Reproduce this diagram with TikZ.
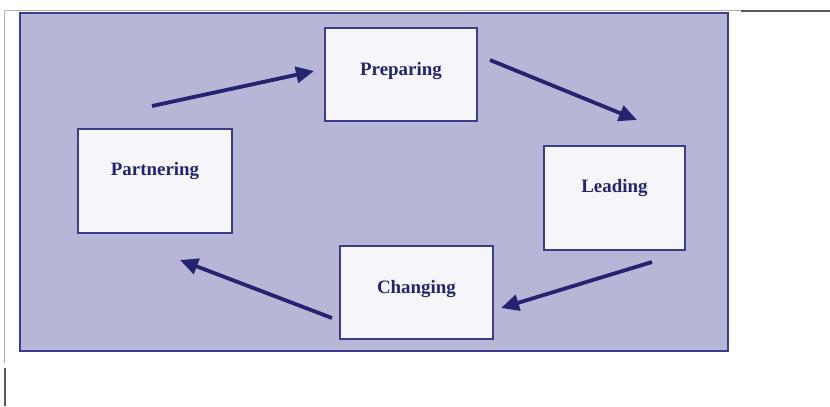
\documentclass[tikz,border=0pt]{standalone}
\usepackage{fontspec}
\setmainfont{Liberation Serif}
\usetikzlibrary{arrows.meta}
\definecolor{panelfill}{RGB}{182,182,214}
\definecolor{paneledge}{RGB}{60,60,140}
\definecolor{boxfill}{RGB}{246,246,250}
\definecolor{inkblue}{RGB}{36,36,112}
\definecolor{rulegray}{RGB}{175,175,175}
\definecolor{ruledark}{RGB}{90,90,90}
\tikzset{
  stagebox/.style={draw=paneledge, line width=1.2bp, fill=boxfill, inner sep=0pt},
  stagetext/.style={inner sep=0pt, font=\fontsize{19}{22}\selectfont\bfseries, text=inkblue},
  flow/.style={draw=inkblue, line width=3.8bp,
    -{Triangle[length=18bp,width=16bp]}}
}
\begin{document}
\begin{tikzpicture}[x=1bp,y=-1bp]
  \useasboundingbox (0,0) rectangle (830,406);
  % page rules
  \draw[rulegray, line width=1bp] (4,10.5) -- (741,10.5);
  \draw[ruledark, line width=1.6bp] (741,11) -- (830,11);
  \draw[rulegray, line width=1bp] (4.5,10.5) -- (4.5,363);
  \draw[ruledark, line width=1.6bp] (5,368) -- (5,406);
  % shaded panel
  \draw[paneledge, line width=1.4bp, fill=panelfill] (20,13) rectangle (728,351);
  % stages
  \node[stagebox, minimum width=152bp, minimum height=93bp] (prep) at (401,74.5) {};
  \node[stagebox, minimum width=141bp, minimum height=104bp] (lead) at (614.5,198) {};
  \node[stagebox, minimum width=153bp, minimum height=93bp] (chg) at (416.5,292.5) {};
  \node[stagebox, minimum width=154bp, minimum height=104bp] (part) at (155,181) {};
  \node[stagetext, yshift=3bp] (prepT) at (prep.center) {Preparing};
  \node[stagetext, yshift=10bp] (leadT) at (lead.center) {Leading};
  \node[stagetext, yshift=3bp] (chgT) at (chg.center) {Changing};
  \node[stagetext, yshift=10bp] (partT) at (part.center) {Partnering};
  % arrow ends
  \coordinate (a1s) at (152,106);
  \coordinate (a1e) at (314,71);
  \coordinate (a2s) at (490,60);
  \coordinate (a2e) at (637,120);
  \coordinate (a3s) at (652,262);
  \coordinate (a3e) at (501,308);
  \coordinate (a4s) at (332,318);
  \coordinate (a4e) at (180,260);
  \draw[flow] (a1s) -- (a1e);
  \draw[flow] (a2s) -- (a2e);
  \draw[flow] (a3s) -- (a3e);
  \draw[flow] (a4s) -- (a4e);
\end{tikzpicture}
\end{document}
